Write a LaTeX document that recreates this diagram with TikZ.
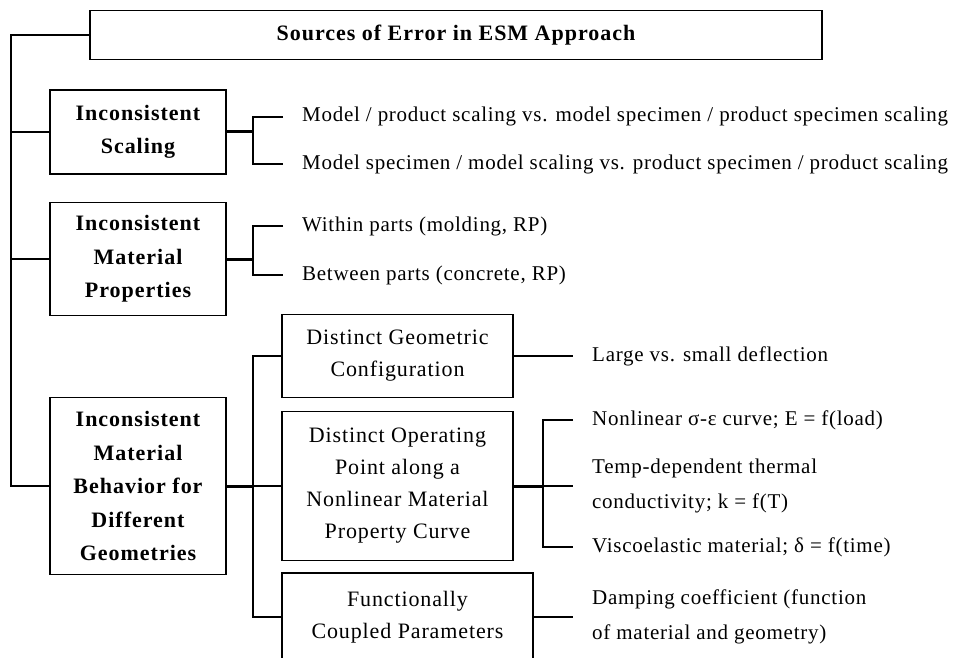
\documentclass[tikz,border=0pt]{standalone}
\usepackage{fontspec}
\setmainfont{Liberation Serif}
\begin{document}
\begin{tikzpicture}[x=1pt,y=-1pt,
 box/.style={draw, line width=1.8pt, inner sep=0pt, align=center, font=\fontsize{22}{32}\selectfont\addfontfeatures{LetterSpace=4}},
 bbox/.style={box, font=\fontsize{22}{33.5}\selectfont\bfseries\addfontfeatures{LetterSpace=4.5}},
 leaf/.style={anchor=west, inner sep=0pt, align=left, font=\fontsize{21}{35}\selectfont\addfontfeatures{LetterSpace=3.5}},
 leafone/.style={leaf, text height=14pt, text depth=4pt},
 conn/.style={line width=1.5pt},
 tconn/.style={line width=3pt}]
\useasboundingbox (0,0) rectangle (953,658);
\clip (0,0) rectangle (953,658);

\node[bbox, minimum width=732, minimum height=49] (top) at (456,35) {Sources of Error in ESM Approach};
\node[bbox, minimum width=176, minimum height=84] (b1) at (138,132) {Inconsistent\\Scaling};
\node[bbox, minimum width=176, minimum height=113] (b2) at (138,259) {Inconsistent\\Material\\Properties};
\node[bbox, minimum width=176, minimum height=177] (b3) at (138,486) {Inconsistent\\Material\\Behavior for\\Different\\Geometries};

\node[box, minimum width=231, minimum height=83] (g1) at (397.5,356) {Distinct Geometric\\Configuration};
\node[box, minimum width=231, minimum height=149] (g2) at (397.5,486) {Distinct Operating\\Point along a\\Nonlinear Material\\Property Curve};
\node[box, minimum width=251, minimum height=88] (g3) at (407.5,617) {Functionally\\Coupled Parameters};

\node[leafone] (s1) at (302,117) {Model / product scaling vs. model specimen / product specimen scaling};
\node[leafone] (s2) at (302,164) {Model specimen / model scaling vs. product specimen / product scaling};
\node[leafone] (p1) at (302,226) {Within parts (molding, RP)};
\node[leafone] (p2) at (302,275) {Between parts (concrete, RP)};
\node[leafone] (r1) at (592,356) {Large vs. small deflection};
\node[leafone] (r2) at (592,420) {Nonlinear σ-ε curve; E = f(load)};
\node[leaf] (r3) at (592,486) {Temp-dependent thermal\\conductivity; k = f(T)};
\node[leafone] (r4) at (592,547) {Viscoelastic material; δ = f(time)};
\node[leaf] (r5) at (592,617) {Damping coefficient (function\\of material and geometry)};

% spine
\draw[conn] (top.west) -- ++(-78,0) coordinate (sp) -- (sp |- b3.west) -- (b3.west);
\draw[conn] (b1.west) -- (b1.west -| sp);
\draw[conn] (b2.west) -- (b2.west -| sp);

% scaling branch
\draw[tconn] (b1.east) -- ++(26,0) coordinate (j1);
\draw[conn] ([xshift=-19pt]s1.west) -| (j1) |- ([xshift=-19pt]s2.west);
% material properties branch
\draw[tconn] (b2.east) -- ++(26,0) coordinate (j2);
\draw[conn] ([xshift=-19pt]p1.west) -| (j2) |- ([xshift=-19pt]p2.west);
% behavior branch
\draw[tconn] (b3.east) -- ++(26,0) coordinate (j3);
\draw[conn] (g1.west) -| (j3) |- (g3.west);
\draw[conn] (j3) -- (g2.west);
% right side
\draw[conn] (g1.east) -- ([xshift=-19pt]r1.west);
\draw[tconn] (g2.east) -- ++(29,0) coordinate (j4);
\draw[conn] ([xshift=-19pt]r2.west) -| (j4) |- ([xshift=-19pt]r4.west);
\draw[conn] (j4) -- ([xshift=-19pt]r3.west);
\draw[conn] (g3.east) -- ([xshift=-19pt]r5.west);
\end{tikzpicture}
\end{document}
